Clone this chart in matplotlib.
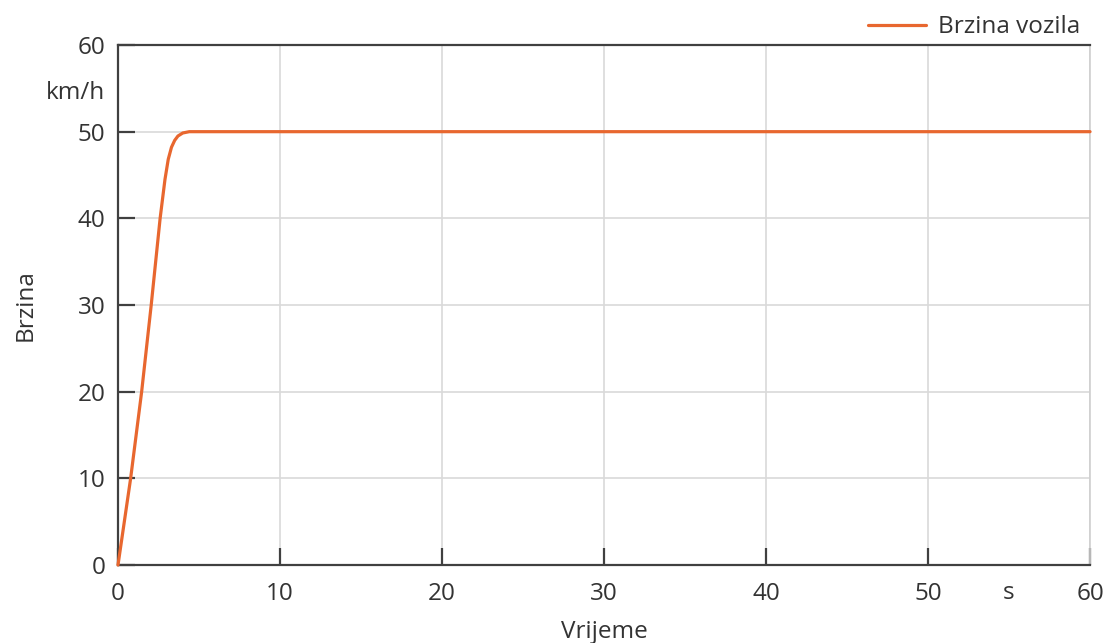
import numpy as np
import matplotlib.pyplot as plt

plt.rcParams['font.family'] = ['Open Sans', 'DejaVu Sans']

# brzina vozila ocitana sa slike
vrijeme = [0, 0.78, 1.46, 2.05, 2.6, 2.9, 3.1, 3.3, 3.5, 3.7, 4.0, 4.4, 5, 60]
brzina = [0, 10, 20, 30, 40, 44.5, 46.8, 48.2, 49.0, 49.5, 49.85, 50, 50, 50]

x_ticks = [0, 10, 20, 30, 40, 50, 60]
y_ticks = [0, 10, 20, 30, 40, 50, 60]

tamna = '#404040'
tekst = '#333333'
boja = '#E8672F'
vel = 17.5

fig = plt.figure(figsize=(11.08, 6.43), dpi=100)
ax = fig.add_axes([0.1065, 0.1213, 0.8773, 0.8087])

ax.plot(vrijeme, brzina, color=boja, lw=2.3, label='Brzina vozila',
        solid_capstyle='round', clip_on=False, zorder=3)

ax.set_xlim(0, 60)
ax.set_ylim(0, 60)
ax.set_xticks(x_ticks)
ax.set_yticks(y_ticks)
ax.grid(True, color='#d9d9d9', lw=1.2)
ax.set_axisbelow(True)

ax.tick_params(direction='in', length=12, width=1.6, color=tamna,
               labelsize=vel, labelcolor=tekst, pad=9)
ax.tick_params(axis='x', pad=12)

for s in ['left', 'bottom', 'top']:
    ax.spines[s].set_color(tamna)
    ax.spines[s].set_linewidth(1.6)
ax.spines['right'].set_color('#cfcfcf')
ax.spines['right'].set_linewidth(1.2)

# jedinice na mjestu 55
ax.text(-0.0134, 54.5, 'km/h', transform=ax.get_yaxis_transform(),
        ha='right', va='center', fontsize=vel, color=tekst)
ax.text(55, -0.054, 's', transform=ax.get_xaxis_transform(),
        ha='center', va='center', fontsize=vel, color=tekst)

ax.set_xlabel('Vrijeme', fontsize=vel, color=tekst, labelpad=10)
ax.set_ylabel('Brzina', fontsize=vel, color=tekst, labelpad=29)

fig.legend(loc='upper right', bbox_to_anchor=(0.995, 1.01), frameon=False,
           fontsize=vel, handlelength=2.4, handletextpad=0.5,
           labelcolor=tekst)

fig.savefig('out.png', dpi=100)
